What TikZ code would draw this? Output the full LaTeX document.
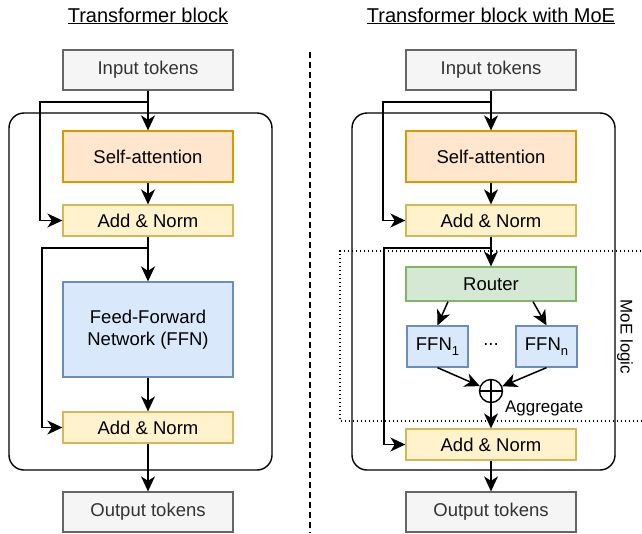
\documentclass[tikz,border=0pt]{standalone}
\usepackage{fontspec}
\setmainfont{Liberation Sans}
\usetikzlibrary{arrows.meta}
\definecolor{inFill}{HTML}{F5F5F5}
\definecolor{inDraw}{HTML}{666666}
\definecolor{inText}{HTML}{333333}
\definecolor{saFill}{HTML}{FFE6CC}
\definecolor{saDraw}{HTML}{D79B00}
\definecolor{anFill}{HTML}{FFF2CC}
\definecolor{anDraw}{HTML}{D6B656}
\definecolor{ffFill}{HTML}{DAE8FC}
\definecolor{ffDraw}{HTML}{6C8EBF}
\definecolor{rtFill}{HTML}{D5E8D4}
\definecolor{rtDraw}{HTML}{82B366}
\newcommand{\mysub}[1]{\raisebox{-0.3em}{\fontsize{13}{13}\selectfont #1}}
\tikzset{
  boxbase/.style={draw, line width=1.3pt, inner sep=0pt, minimum width=170pt,
    font=\fontsize{18.5}{22}\selectfont, align=center},
  tokbox/.style={boxbase, fill=inFill, draw=inDraw, text=inText, minimum height=40pt},
  sabox/.style={boxbase, fill=saFill, draw=saDraw, minimum height=51pt},
  anbox/.style={boxbase, fill=anFill, draw=anDraw, minimum height=31pt},
  ffbox/.style={boxbase, fill=ffFill, draw=ffDraw, minimum height=95pt},
  rtbox/.style={boxbase, fill=rtFill, draw=rtDraw, minimum height=34pt},
  expbox/.style={boxbase, fill=ffFill, draw=ffDraw, minimum width=61pt, minimum height=41pt},
  arr/.style={draw, line width=1.5pt, -{Stealth[length=15pt, width=14pt, inset=4.5pt]}},
  outerbox/.style={draw, line width=1.4pt, rounded corners=15pt},
  titletext/.style={font=\fontsize{20}{24}\selectfont, anchor=base, inner sep=0pt},
}
\begin{document}
\begin{tikzpicture}[x=1pt, y=-1pt]
\useasboundingbox (0,0) rectangle (642,533);

% ---------- left: Transformer block ----------
\node[titletext] (t1) at (148,22) {\underline{Transformer block}};
\draw[outerbox] (9,113) rectangle (272,470);
\node[tokbox] (in1) at (148,70) {Input tokens};
\node[sabox] (sa1) at (148,156.5) {Self-attention};
\node[anbox] (an1) at (148,220.5) {Add \& Norm};
\node[ffbox] (ffn) at (148,329.5) {Feed-Forward\\Network (FFN)};
\node[anbox] (an2) at (148,427.5) {Add \& Norm};
\node[tokbox] (out1) at (148,512) {Output tokens};

\coordinate (s1) at (40,102);
\coordinate (s2) at (42,248);
\draw[arr] (in1.south) -- (sa1.north);
\draw[arr] (in1.south) |- (s1) |- (an1.west);
\draw[arr] (sa1.south) -- (an1.north);
\draw[arr] (an1.south) -- (ffn.north);
\draw[arr] (an1.south) |- (s2) |- (an2.west);
\draw[arr] (ffn.south) -- (an2.north);
\draw[arr] (an2.south) -- (out1.north);

% ---------- separator ----------
\coordinate (d1) at (310,52);
\coordinate (d2) at (310,533);
\draw[line width=2pt, dash pattern=on 6pt off 4pt] (d1) -- (d2);

% ---------- right: Transformer block with MoE ----------
\node[titletext] (t2) at (491,22) {\underline{Transformer block with MoE}};
\draw[outerbox] (352,113) rectangle (615,470);
\draw[line width=1.4pt, dash pattern=on 1.4pt off 2.6pt] (645,251) -- (340,251) -- (340,421) -- (645,421);
\node[font=\fontsize{16.9}{20}\selectfont, rotate=-90, inner sep=0pt] (moe) at (625,337) {MoE logic};

\node[tokbox] (in2) at (491,70) {Input tokens};
\node[sabox] (sa2) at (491,156.5) {Self-attention};
\node[anbox] (an3) at (491,220.5) {Add \& Norm};
\node[rtbox] (rt) at (491,284) {Router};
\node[expbox] (f1) at (437.5,346.5) {FFN\mysub{1}};
\node[expbox] (fn) at (546.5,346.5) {FFN\mysub{n}};
\node[font=\fontsize{18.5}{22}\selectfont, inner sep=0pt] (dots) at (491,345) {...};
\node[draw, circle, line width=1.4pt, minimum size=23pt, inner sep=0pt] (plus) at (491,391) {};
\draw[line width=1.2pt] (plus.north) -- (plus.south) (plus.west) -- (plus.east);
\node[font=\fontsize{16.9}{20}\selectfont, anchor=west, inner sep=0pt] (agg) at (505,408) {Aggregate};
\node[anbox] (an4) at (491,444.5) {Add \& Norm};
\node[tokbox] (out2) at (491,512) {Output tokens};

\coordinate (s3) at (383,102);
\coordinate (s4) at (384,248);
\draw[arr] (in2.south) -- (sa2.north);
\draw[arr] (in2.south) |- (s3) |- (an3.west);
\draw[arr] (sa2.south) -- (an3.north);
\draw[arr] (an3.south) -- (rt.north);
\draw[arr] (an3.south) |- (s4) |- (an4.west);
\draw[arr] ([xshift=-43pt]rt.south) -- (f1.north);
\draw[arr] ([xshift=42pt]rt.south) -- (fn.north);
\draw[arr] (f1.south) -- (plus);
\draw[arr] (fn.south) -- (plus);
\draw[arr] (plus.south) -- (an4.north);
\draw[arr] (an4.south) -- (out2.north);
\end{tikzpicture}
\end{document}
